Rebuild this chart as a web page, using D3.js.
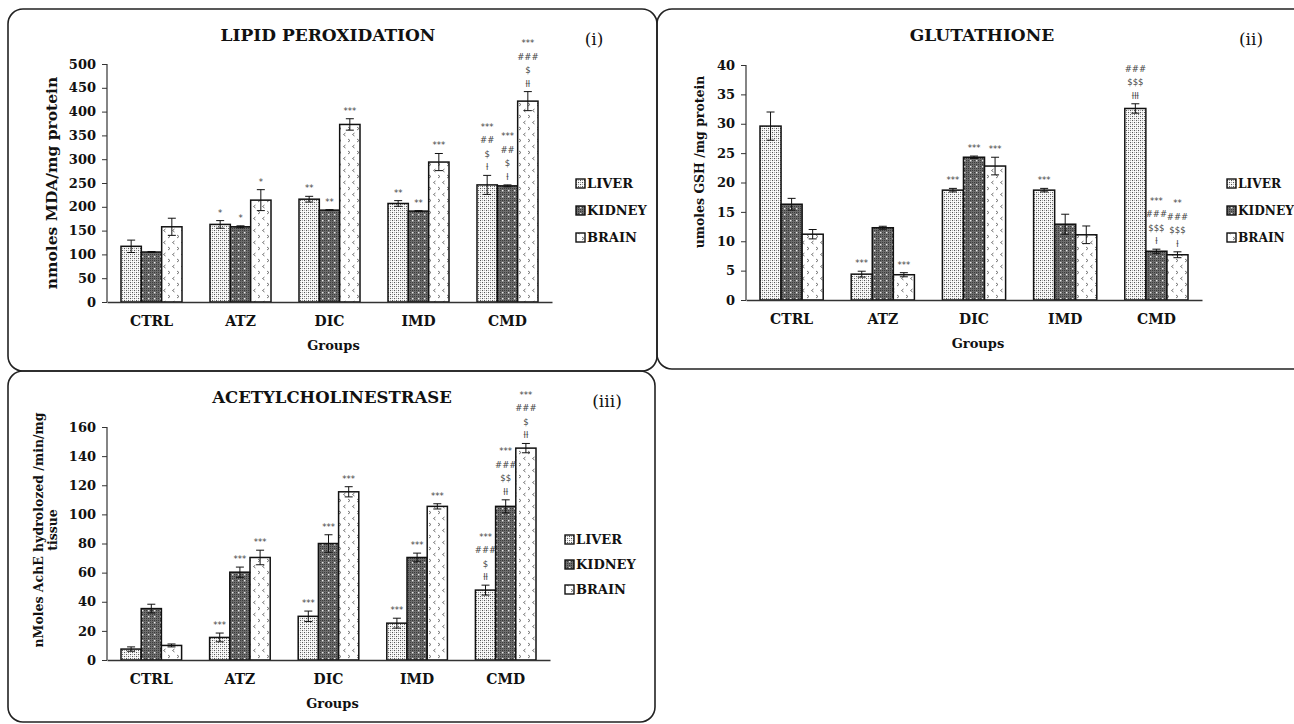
<!DOCTYPE html>
<html>
<head>
<meta charset="utf-8">
<script src="https://cdn.jsdelivr.net/npm/d3@7"></script>
<style>
  body { margin: 0; background: #fff; }
  svg text { font-family: "DejaVu Serif", serif; }
  .sig { font-family: "DejaVu Sans", sans-serif; font-size: 8.5px; fill: #444; }
</style>
</head>
<body>
<svg id="fig" width="1294" height="724"></svg>
<script>
const groups = ["CTRL", "ATZ", "DIC", "IMD", "CMD"];
const tissues = ["LIVER", "KIDNEY", "BRAIN"];

// (i) lipid peroxidation, nmoles MDA/mg protein
const lpoTicks = [0, 50, 100, 150, 200, 250, 300, 350, 400, 450, 500];
const lpoLiver = [117, 163, 216, 207, 246];
const lpoKidney = [105, 158, 193, 191, 244];
const lpoBrain = [158, 214, 373, 294, 422];
const lpoLiverErr = [13, 8, 6, 6, 20];
const lpoKidneyErr = [1, 2, 1, 1, 2];
const lpoBrainErr = [18, 22, 12, 18, 20];
const lpoLiverSig = ["", "*", "**", "**", "***|##|$|ƚ"];
const lpoKidneySig = ["", "*", "**", "**", "***|##|$|ƚ"];
const lpoBrainSig = ["", "*", "***", "***", "***|###|$|ƚƚ"];

// (ii) glutathione, umoles GSH /mg protein
const gshTicks = [0, 5, 10, 15, 20, 25, 30, 35, 40];
const gshLiver = [29.6, 4.4, 18.7, 18.7, 32.6];
const gshKidney = [16.3, 12.3, 24.3, 12.9, 8.3];
const gshBrain = [11.2, 4.3, 22.8, 11.1, 7.7];
const gshLiverErr = [2.4, 0.5, 0.3, 0.3, 0.8];
const gshKidneyErr = [1.0, 0.25, 0.2, 1.7, 0.35];
const gshBrainErr = [0.8, 0.35, 1.5, 1.5, 0.5];
const gshLiverSig = ["", "***", "***", "***", "###|$$$|ƚƚƚ"];
const gshKidneySig = ["", "", "***", "", "***|###|$$$|ƚ"];
const gshBrainSig = ["", "***", "***", "", "**|###|$$$|ƚ"];

// (iii) acetylcholinesterase, nMoles AchE hydrolozed /min/mg tissue
const acheTicks = [0, 20, 40, 60, 80, 100, 120, 140, 160];
const acheLiver = [7.5, 15.5, 30, 25.3, 48];
const acheKidney = [35.3, 60.3, 80, 70.4, 105.5];
const acheBrain = [10, 70.4, 115.5, 105.5, 145.5];
const acheLiverErr = [1.5, 3, 3.6, 3.4, 3.4];
const acheKidneyErr = [3, 3.5, 6, 3, 4.5];
const acheBrainErr = [1, 5, 3.5, 1.8, 3.2];
const acheLiverSig = ["", "***", "***", "***", "***|###|$|ƚƚ"];
const acheKidneySig = ["", "***", "***", "***", "***|###|$$|ƚƚ"];
const acheBrainSig = ["", "***", "***", "***", "***|###|$|ƚƚ"];

const svg = d3.select("#fig");
const defs = svg.append("defs");

// fill patterns: liver = fine stipple, kidney = dark dotted grid, brain = chevrons
const pLiver = defs.append("pattern").attr("id", "pat-LIVER")
    .attr("patternUnits", "userSpaceOnUse").attr("width", 4).attr("height", 4);
pLiver.append("rect").attr("width", 4).attr("height", 4).attr("fill", "#fff");
[[0, 0, "#555"], [2, 2, "#555"], [2, 0, "#aaa"], [0, 2, "#aaa"]].forEach(d =>
    pLiver.append("rect").attr("x", d[0]).attr("y", d[1]).attr("width", 1.1).attr("height", 1.1).attr("fill", d[2]));

const pKidney = defs.append("pattern").attr("id", "pat-KIDNEY")
    .attr("patternUnits", "userSpaceOnUse").attr("width", 6).attr("height", 6);
pKidney.append("rect").attr("width", 6).attr("height", 6).attr("fill", "#6c6c6c");
[[0, 0], [2, 0], [4, 0], [0, 2], [2, 2], [4, 2], [0, 4], [2, 4]].forEach(d =>
    pKidney.append("rect").attr("x", d[0]).attr("y", d[1]).attr("width", 1).attr("height", 1).attr("fill", "#3c3c3c"));
pKidney.append("rect").attr("x", 4).attr("y", 4).attr("width", 1.4).attr("height", 1.4).attr("fill", "#e8e8e8");

const pBrain = defs.append("pattern").attr("id", "pat-BRAIN")
    .attr("patternUnits", "userSpaceOnUse").attr("width", 9).attr("height", 12);
pBrain.append("rect").attr("width", 9).attr("height", 12).attr("fill", "#fff");
pBrain.append("path").attr("d", "M3.5,1 L1.5,2.5 L3.5,4 M6,7 L8,8.5 L6,10")
    .attr("fill", "none").attr("stroke", "#666").attr("stroke-width", 0.9);

// panel frames
function frame(x0, y0, x1, y1) {
    svg.append("rect").attr("x", x0).attr("y", y0).attr("width", x1 - x0).attr("height", y1 - y0)
        .attr("rx", 15).attr("fill", "none").attr("stroke", "#222").attr("stroke-width", 1.6);
}
frame(8, 9, 657, 371);
frame(657, 9, 1312, 369);
frame(8, 371, 655, 722);

function drawPanel(p) {
    const g = svg.append("g");
    const x = d3.scaleBand().domain(groups).range([p.left, p.right]);
    const xi = d3.scaleBand().domain(tissues).range([14, x.bandwidth() - 14]);
    const y = d3.scaleLinear().domain([0, p.ticks[p.ticks.length - 1]]).range([p.bottom, p.top]);

    const rows = [];
    tissues.forEach((t, k) => {
        groups.forEach((grp, i) => {
            rows.push({grp: grp, tissue: t, v: p.values[k][i], e: p.errors[k][i], sig: p.sigs[k][i]});
        });
    });

    // bars
    g.selectAll("rect.bar").data(rows).enter().append("rect")
        .attr("class", "bar")
        .attr("x", d => x(d.grp) + xi(d.tissue))
        .attr("y", d => y(d.v))
        .attr("width", xi.bandwidth())
        .attr("height", d => y(0) - y(d.v))
        .attr("fill", d => "url(#pat-" + d.tissue + ")")
        .attr("stroke", "#111")
        .attr("stroke-width", 1.5);

    // error bars
    const eb = g.selectAll("g.err").data(rows).enter().append("g")
        .attr("transform", d => "translate(" + (x(d.grp) + xi(d.tissue) + xi.bandwidth() / 2) + ",0)");
    eb.append("line").attr("y1", d => y(d.v + d.e)).attr("y2", d => y(d.v - d.e))
        .attr("stroke", "#111").attr("stroke-width", 1);
    eb.append("line").attr("x1", -4).attr("x2", 4).attr("y1", d => y(d.v + d.e)).attr("y2", d => y(d.v + d.e))
        .attr("stroke", "#111").attr("stroke-width", 1);
    eb.append("line").attr("x1", -4).attr("x2", 4).attr("y1", d => y(d.v - d.e)).attr("y2", d => y(d.v - d.e))
        .attr("stroke", "#111").attr("stroke-width", 1);

    // significance marks stacked above the error bar
    eb.each(function(d) {
        if (!d.sig) return;
        const lines = d.sig.split("|");
        const top = y(d.v + d.e);
        lines.forEach((s, j) => {
            d3.select(this).append("text").attr("class", "sig")
                .attr("text-anchor", "middle")
                .attr("y", top - 5 - (lines.length - 1 - j) * 13.5)
                .text(s);
        });
    });

    // axes
    const ya = g.append("g").attr("transform", "translate(" + p.left + ",0)")
        .call(d3.axisLeft(y).tickValues(p.ticks).tickSize(5).tickPadding(6));
    ya.selectAll("text").attr("font-family", "DejaVu Serif").attr("font-weight", "bold")
        .attr("font-size", 13).attr("fill", "#111");
    ya.selectAll("line").attr("stroke", "#333");
    ya.select(".domain").attr("stroke", "#333").attr("stroke-width", 1.2).attr("d", "M0," + p.top + "V" + p.bottom);

    const xa = g.append("g").attr("transform", "translate(0," + p.bottom + ")")
        .call(d3.axisBottom(x).tickSize(0).tickPadding(14));
    xa.selectAll("text").attr("font-family", "DejaVu Serif").attr("font-weight", "bold")
        .attr("font-size", 14).attr("fill", "#111");
    xa.select(".domain").attr("stroke", "#333").attr("stroke-width", 1.5);

    g.append("text").attr("x", (p.left + p.right) / 2 + 4).attr("y", p.bottom + 48)
        .attr("text-anchor", "middle").attr("font-weight", "bold").attr("font-size", 13).attr("fill", "#111")
        .text("Groups");

    // title and panel number
    g.append("text").attr("x", p.titleX).attr("y", p.titleY).attr("text-anchor", "middle")
        .attr("font-weight", "bold").attr("font-size", p.titleSize).attr("fill", "#111").text(p.title);
    g.append("text").attr("x", p.numX).attr("y", p.titleY + 4).attr("text-anchor", "middle")
        .attr("font-size", 17).attr("fill", "#111").text(p.num);

    // y label
    const yl = g.append("text").attr("transform", "translate(" + p.ylabX + "," + p.ylabY + ") rotate(-90)")
        .attr("text-anchor", "middle").attr("font-weight", "bold").attr("font-size", p.ylabSize).attr("fill", "#111");
    p.ylabel.forEach((s, j) => {
        yl.append("tspan").attr("x", 0).attr("dy", j === 0 ? -(p.ylabel.length - 1) * 7 : 14).text(s);
    });

    // legend
    const lg = g.append("g").attr("transform", "translate(" + p.legX + "," + p.legY + ")");
    const li = lg.selectAll("g").data(tissues).enter().append("g")
        .attr("transform", (d, i) => "translate(0," + i * p.legStep + ")");
    li.append("rect").attr("x", 0).attr("y", -9).attr("width", 9).attr("height", 9)
        .attr("fill", d => "url(#pat-" + d + ")").attr("stroke", "#111").attr("stroke-width", 1.4);
    li.append("text").attr("x", 11).attr("y", 0).attr("font-weight", "bold").attr("font-size", p.legSize)
        .attr("fill", "#111").text(d => d);
}

drawPanel({
    left: 107, right: 552, top: 64, bottom: 302, ticks: lpoTicks,
    values: [lpoLiver, lpoKidney, lpoBrain],
    errors: [lpoLiverErr, lpoKidneyErr, lpoBrainErr],
    sigs: [lpoLiverSig, lpoKidneySig, lpoBrainSig],
    title: "LIPID PEROXIDATION", titleSize: 17, titleX: 328, titleY: 41, num: "(i)", numX: 594,
    ylabel: ["nmoles MDA/mg protein"], ylabSize: 15.5, ylabX: 57, ylabY: 183,
    legX: 576, legY: 188, legStep: 27, legSize: 13
});

drawPanel({
    left: 746, right: 1202, top: 65, bottom: 300, ticks: gshTicks,
    values: [gshLiver, gshKidney, gshBrain],
    errors: [gshLiverErr, gshKidneyErr, gshBrainErr],
    sigs: [gshLiverSig, gshKidneySig, gshBrainSig],
    title: "GLUTATHIONE", titleSize: 17, titleX: 982, titleY: 41, num: "(ii)", numX: 1251,
    ylabel: ["umoles GSH /mg protein"], ylabSize: 12.5, ylabX: 704, ylabY: 162,
    legX: 1227, legY: 188, legStep: 27, legSize: 12.2
});

drawPanel({
    left: 107, right: 550, top: 427, bottom: 660, ticks: acheTicks,
    values: [acheLiver, acheKidney, acheBrain],
    errors: [acheLiverErr, acheKidneyErr, acheBrainErr],
    sigs: [acheLiverSig, acheKidneySig, acheBrainSig],
    title: "ACETYLCHOLINESTRASE", titleSize: 16.5, titleX: 332, titleY: 403, num: "(iii)", numX: 607,
    ylabel: ["nMoles AchE hydrolozed /min/mg", "tissue"], ylabSize: 12.5, ylabX: 50, ylabY: 530,
    legX: 565, legY: 544, legStep: 25, legSize: 13
});
</script>
</body>
</html>
